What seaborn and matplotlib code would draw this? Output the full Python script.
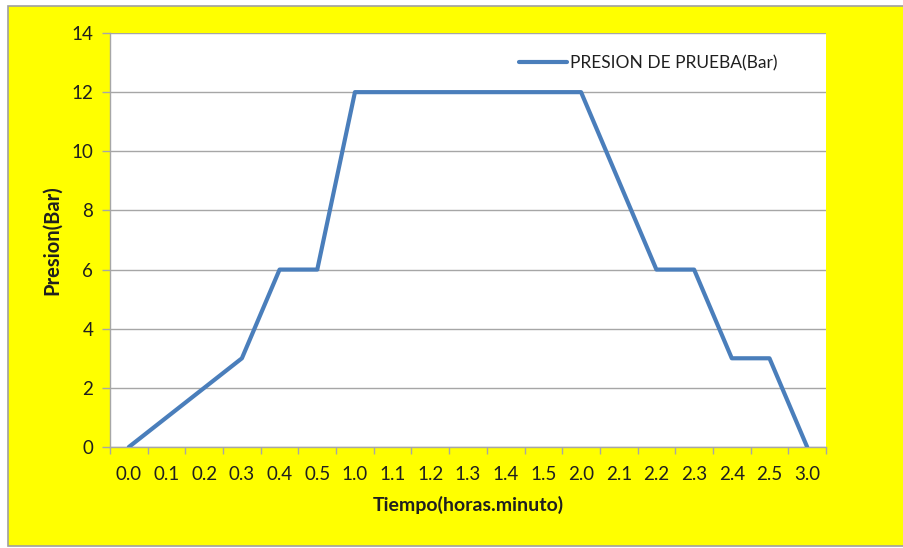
import matplotlib
matplotlib.use("Agg")
import matplotlib.pyplot as plt
from matplotlib.patches import Rectangle
from matplotlib.ticker import FixedLocator, NullFormatter
import seaborn as sns
import pandas as pd

# Test time (hours.minutes) and pressure readings
tiempo = ["0.0", "0.1", "0.2", "0.3", "0.4", "0.5",
          "1.0", "1.1", "1.2", "1.3", "1.4", "1.5",
          "2.0", "2.1", "2.2", "2.3", "2.4", "2.5", "3.0"]
presion = [0, 1, 2, 3, 6, 6,
           12, 12, 12, 12, 12, 12,
           12, 9, 6, 6, 3, 3, 0]
serie = "PRESION DE PRUEBA(Bar)"
y_ticks = [0, 2, 4, 6, 8, 10, 12, 14]

df = pd.DataFrame({"pos": range(len(tiempo)), "tiempo": tiempo, "presion": presion})

sns.set_theme(style="white")
plt.rcParams["font.family"] = ["Lato", "DejaVu Sans"]
text_color = "#1f1f1f"
axis_gray = "#A6A6A6"

W, H = 904, 548
fig = plt.figure(figsize=(W / 100, H / 100), dpi=100, facecolor="white")

# Yellow chart area with thin gray frame, kept behind the axes
fig.patches.append(Rectangle((8 / W, 1 - 546 / H), (W - 8) / W, (546 - 6) / H,
                             transform=fig.transFigure, facecolor="#FFFF00",
                             edgecolor="#A0A0A0", linewidth=1.2, zorder=-10))

ax = fig.add_axes([110 / W, 1 - 447 / H, (826 - 110) / W, (447 - 33) / H])
ax.set_zorder(5)
ax.set_facecolor("white")

sns.lineplot(data=df, x="pos", y="presion", ax=ax, color="#4A7EBB",
             linewidth=3.0, label=serie, zorder=3)

ax.set_xlim(-0.5, len(tiempo) - 0.5)
ax.set_ylim(0, 14)
ax.set_yticks(y_ticks)
ax.set_yticklabels([str(v) for v in y_ticks])
ax.set_xticks(range(len(tiempo)))
ax.set_xticklabels(tiempo)
ax.xaxis.set_minor_locator(FixedLocator([i - 0.5 for i in range(len(tiempo) + 1)]))
ax.xaxis.set_minor_formatter(NullFormatter())

ax.grid(axis="y", color=axis_gray, linewidth=1.0, zorder=0)
ax.set_axisbelow(True)
for side in ["top", "right"]:
    ax.spines[side].set_visible(False)
for side in ["left", "bottom"]:
    ax.spines[side].set_color(axis_gray)
    ax.spines[side].set_linewidth(1.0)

ax.tick_params(axis="x", which="major", length=0, pad=14, labelsize=13.5, colors=text_color)
ax.tick_params(axis="x", which="minor", length=5, width=1, color=axis_gray, direction="out", bottom=True)
ax.tick_params(axis="y", which="major", length=6, width=1, color=axis_gray, direction="out",
               pad=6, labelsize=13.5, labelcolor=text_color, left=True)

ax.set_xlabel("Tiempo(horas.minuto)", fontsize=14, fontweight="bold", color=text_color, labelpad=9)
ax.set_ylabel("Presion(Bar)", fontsize=14.5, fontweight="bold", color=text_color, labelpad=7)

leg = ax.legend(loc="upper right", bbox_to_anchor=(0.954, 0.985), frameon=False,
                fontsize=12.5, handlelength=2.8, handletextpad=0.15)
for t in leg.get_texts():
    t.set_color(text_color)

fig.savefig("out.png", dpi=100, facecolor="white")
